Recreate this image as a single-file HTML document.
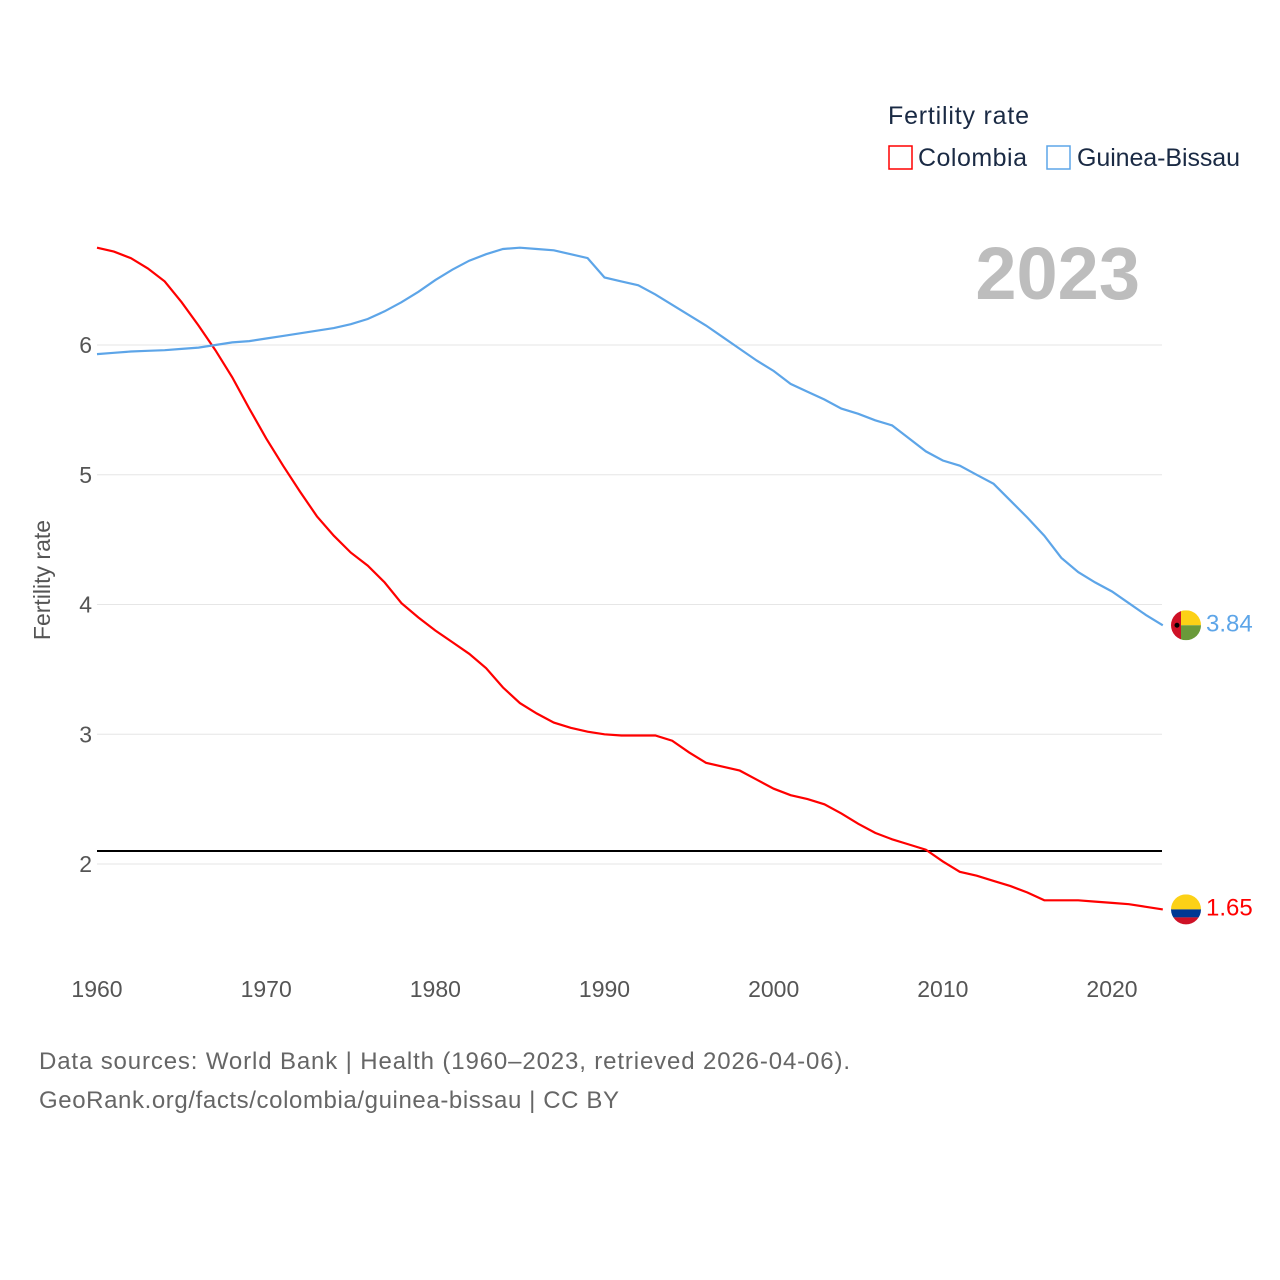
<!DOCTYPE html>
<html><head><meta charset="utf-8"><style>
body{margin:0;background:#fff;font-family:"Liberation Sans",sans-serif}
svg{display:block}
</style></head><body>
<svg id="chart" width="1280" height="1280" xmlns="http://www.w3.org/2000/svg">
<text x="888" y="124" font-size="25" fill="#1a2a44" textLength="141">Fertility rate</text>
<g><rect x="889" y="146" width="23" height="23" fill="none" stroke="#f00" stroke-width="1.5"/><text x="918" y="166" font-size="25" fill="#1a2a44" textLength="109">Colombia</text></g>
<g><rect x="1047" y="146" width="23" height="23" fill="none" stroke="#5da5e8" stroke-width="1.5"/><text x="1077" y="166" font-size="25" fill="#1a2a44" textLength="163">Guinea-Bissau</text></g>
<text x="1140" y="299" font-size="74" font-weight="bold" fill="#bdbdbd" text-anchor="end">2023</text>
<text transform="translate(50,580) rotate(-90)" font-size="23" fill="#555" text-anchor="middle">Fertility rate</text>
<g id="grid"></g><g id="xt"></g><g id="series"></g>
<text x="39" y="1069" font-size="24" fill="#666" textLength="811">Data sources: World Bank | Health (1960–2023, retrieved 2026-04-06).</text>
<text x="39" y="1108" font-size="24" fill="#666" textLength="580">GeoRank.org/facts/colombia/guinea-bissau | CC BY</text>
</svg>
<script>
const years=[];for(let y=1960;y<=2023;y++)years.push(y);
const colombia=[6.75,6.72,6.67,6.59,6.49,6.33,6.15,5.96,5.75,5.51,5.28,5.07,4.87,4.68,4.53,4.40,4.30,4.17,4.01,3.90,3.80,3.71,3.62,3.51,3.36,3.24,3.16,3.09,3.05,3.02,3.00,2.99,2.99,2.99,2.95,2.86,2.78,2.75,2.72,2.65,2.58,2.53,2.50,2.46,2.39,2.31,2.24,2.19,2.15,2.11,2.02,1.94,1.91,1.87,1.83,1.78,1.72,1.72,1.72,1.71,1.70,1.69,1.67,1.65];
const guinea=[5.93,5.94,5.95,5.955,5.96,5.97,5.98,6.00,6.02,6.03,6.05,6.07,6.09,6.11,6.13,6.16,6.20,6.26,6.33,6.41,6.50,6.58,6.65,6.70,6.74,6.75,6.74,6.73,6.70,6.67,6.52,6.49,6.46,6.39,6.31,6.23,6.15,6.06,5.97,5.88,5.80,5.70,5.64,5.58,5.51,5.47,5.42,5.38,5.28,5.18,5.11,5.07,5.00,4.93,4.80,4.67,4.53,4.36,4.25,4.17,4.10,4.01,3.92,3.84];
const yTicks=[2,3,4,5,6];
const xTicks=[1960,1970,1980,1990,2000,2010,2020];
const replacement=[2.1];
const NS="http://www.w3.org/2000/svg";
const X=y=>97+(y-1960)*(1015/60);
const Y=v=>345+(6-v)*129.75;
function mk(t,a,p){const e=document.createElementNS(NS,t);for(const k in a)e.setAttribute(k,a[k]);p.appendChild(e);return e;}
const g=document.getElementById('grid'),xt=document.getElementById('xt'),s=document.getElementById('series');
yTicks.forEach(v=>{
 const l=mk('line',{x1:97,x2:1162,y1:Y(v),y2:Y(v),stroke:'#e6e6e6','stroke-width':1},g);
 
 
 const t=mk('text',{x:92,y:Y(v)+8,'font-size':23,fill:'#555','text-anchor':'end'},g);t.textContent=v;
 
 
});
xTicks.forEach(v=>{
 const t=mk('text',{x:X(v),y:997,'font-size':23,fill:'#555','text-anchor':'middle'},xt);t.textContent=v;
 
 
});
replacement.forEach(v=>{
 const l=mk('line',{x1:97,x2:1162,y1:Y(v),y2:Y(v),stroke:'#000','stroke-width':2},g);
 
 
});
function line(data,col,name){
 const d=data.map((v,i)=>(i?'L':'M')+X(years[i]).toFixed(1)+','+Y(v).toFixed(1)).join('');
 const p=mk('path',{d:d,fill:'none',stroke:col,'stroke-width':2.2},s);
 
 
 const last=data[data.length-1],cy=Y(last);
 const t=mk('text',{x:1206,y:cy+6,'font-size':24,fill:col},s);t.textContent=last.toFixed(2);
 
 
 return cy;
}
const cc=line(colombia,'#f00','colombia');
const gc=line(guinea,'#5da5e8','guinea-bissau');
const fc=mk('g',{},s);


const cp1=mk('clipPath',{id:'c1'},fc);mk('circle',{cx:1186,cy:cc,r:15},cp1);
mk('rect',{x:1171,y:cc-15,width:30,height:15,fill:'#fcd116','clip-path':'url(#c1)'},fc);
mk('rect',{x:1171,y:cc,width:30,height:8,fill:'#003893','clip-path':'url(#c1)'},fc);
mk('rect',{x:1171,y:cc+8,width:30,height:8,fill:'#ce1126','clip-path':'url(#c1)'},fc);
const fg=mk('g',{},s);


const cp=mk('clipPath',{id:'c2'},fg);mk('circle',{cx:1186,cy:gc,r:15},cp);
mk('rect',{x:1171,y:gc-15,width:10,height:30,fill:'#ce1126','clip-path':'url(#c2)'},fg);
mk('rect',{x:1181,y:gc-15,width:20,height:15,fill:'#fcd116','clip-path':'url(#c2)'},fg);
mk('rect',{x:1181,y:gc,width:20,height:15,fill:'#6a9a3a','clip-path':'url(#c2)'},fg);
mk('circle',{cx:1177,cy:gc,r:2.5,fill:'#000'},fg);
</script>
</body></html>
